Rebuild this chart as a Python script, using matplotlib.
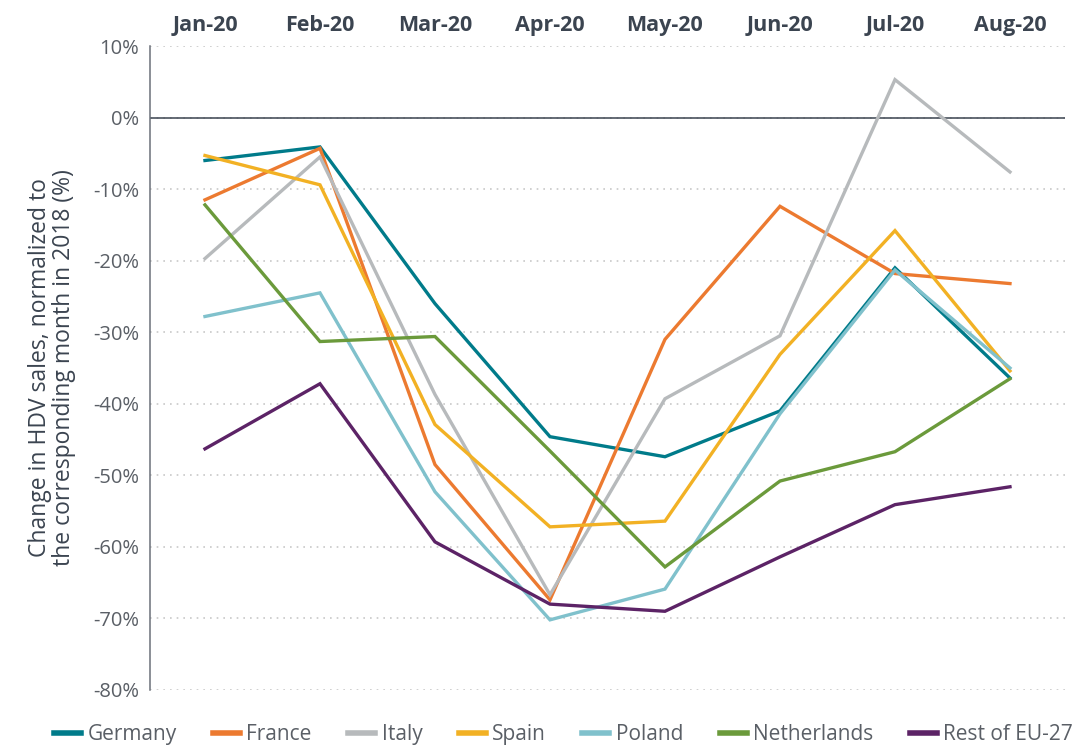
import matplotlib
matplotlib.use('Agg')
import matplotlib.pyplot as plt
import numpy as np
from matplotlib.ticker import FuncFormatter

months = ['Jan-20', 'Feb-20', 'Mar-20', 'Apr-20', 'May-20', 'Jun-20', 'Jul-20', 'Aug-20']

germany = [-6.0, -4.1, -26.0, -44.6, -47.4, -41.0, -21.0, -36.4]
france = [-11.5, -4.3, -48.5, -67.4, -31.0, -12.4, -21.8, -23.2]
italy = [-19.7, -5.5, -38.7, -66.7, -39.3, -30.5, 5.3, -7.6]
spain = [-5.3, -9.4, -42.9, -57.2, -56.4, -33.1, -15.8, -35.4]
poland = [-27.8, -24.5, -52.3, -70.2, -65.9, -41.4, -21.3, -35.0]
netherlands = [-12.2, -31.3, -30.6, -46.6, -62.8, -50.8, -46.7, -36.5]
rest_eu27 = [-46.3, -37.2, -59.3, -68.0, -69.0, -61.4, -54.1, -51.6]

SERIES = [
    ('Germany', germany, '#007b8a'),
    ('France', france, '#ec7a30'),
    ('Italy', italy, '#b7babc'),
    ('Spain', spain, '#f2b124'),
    ('Poland', poland, '#80c1cc'),
    ('Netherlands', netherlands, '#6b9a3b'),
    ('Rest of EU-27', rest_eu27, '#5c2366'),
]

TEXT_DARK = '#3b4450'
TEXT_GRAY = '#5a5f66'

plt.rcParams['font.family'] = ['Open Sans', 'DejaVu Sans']

fig = plt.figure(figsize=(10.73, 7.46), dpi=100)
ax = fig.add_axes([0.1398, 0.0751, 0.8527, 0.8632])

x = np.arange(len(months))
for name, vals, color in SERIES:
    ax.plot(x, vals, color=color, linewidth=2.4, label=name, solid_joinstyle='miter')

ax.set_xlim(-0.478, 7.478)
ax.set_ylim(-80, 10)
ax.set_yticks(np.arange(-80, 11, 10))
ax.yaxis.set_major_formatter(FuncFormatter(lambda v, _: f'{v:.0f}%'))
ax.grid(axis='y', color='#c8c8c8', linestyle=(0, (1, 3)), linewidth=1.2)
ax.set_axisbelow(True)
ax.axhline(0, color=TEXT_DARK, linewidth=1.1, zorder=1.5)

ax.xaxis.tick_top()
ax.set_xticks(x)
ax.set_xticklabels(months, fontsize=15.5, fontweight='bold', color=TEXT_DARK)
ax.tick_params(axis='both', length=0)
ax.tick_params(axis='x', pad=7)
ax.tick_params(axis='y', labelsize=14.5, labelcolor=TEXT_GRAY, pad=8)

for s in ['top', 'right', 'bottom']:
    ax.spines[s].set_visible(False)
ax.spines['left'].set_color('#6b7079')
ax.spines['left'].set_linewidth(1.1)

ax.set_ylabel('Change in HDV sales, normalized to\nthe corresponding month in 2018 (%)',
              fontsize=16.5, color=TEXT_DARK, labelpad=12, linespacing=1.0)

leg = fig.legend(loc='lower center', bbox_to_anchor=(0.525, -0.024), ncol=7,
                 frameon=False, fontsize=15, handlelength=1.3, handletextpad=0.3,
                 columnspacing=1.75)
for line in leg.get_lines():
    line.set_linewidth(4)
for t in leg.get_texts():
    t.set_color(TEXT_GRAY)

fig.savefig('out.png', dpi=100)
